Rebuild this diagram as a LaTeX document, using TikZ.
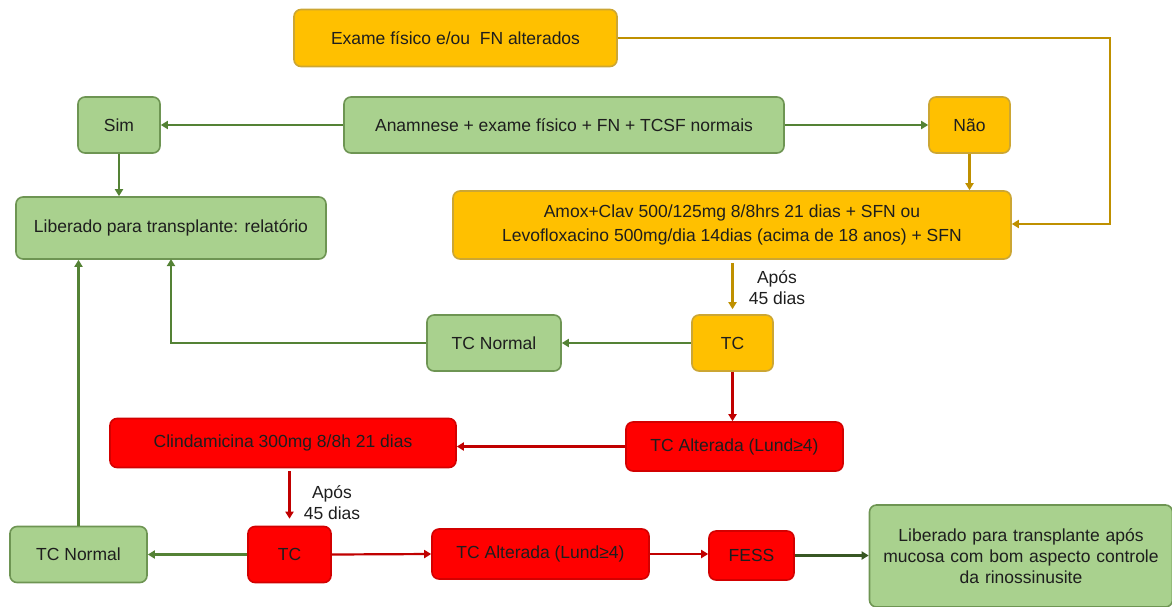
\documentclass[tikz,border=0pt]{standalone}
\usepackage{fontspec}
\setmainfont{Liberation Sans}
\usetikzlibrary{arrows.meta}
\definecolor{gfill}{HTML}{A9D18E}
\definecolor{gline}{HTML}{548235}
\definecolor{ofill}{HTML}{FFC000}
\definecolor{oline}{HTML}{BF9000}
\definecolor{rfill}{HTML}{FF0000}
\definecolor{rline}{HTML}{C00000}
\definecolor{dgline}{HTML}{385723}
\definecolor{txt}{HTML}{1E1E1E}
\begin{document}
\begin{tikzpicture}[x=1pt,y=-1pt,
  box/.style={draw, rounded corners=7pt, line width=1.6pt, inner sep=0pt, align=center,
    font=\fontsize{17.5}{21}\selectfont, text=txt},
  gbox/.style={box, fill=gfill, draw=gline!85},
  obox/.style={box, fill=ofill, draw=oline!80},
  rbox/.style={box, fill=rfill, draw=rline!70!rfill},
  arr/.style={line width=2.2pt, -{Triangle[width=8pt,length=7pt]}},
  garr/.style={arr, draw=gline},
  oarr/.style={arr, draw=oline},
  rarr/.style={arr, draw=rline},
  darr/.style={arr, draw=dgline},
  lbl/.style={align=center, font=\fontsize{17.5}{21}\selectfont, text=txt, inner sep=0pt}
]
\useasboundingbox (0,0) rectangle (1172,606);

% nodes
\node[obox, minimum width=323pt, minimum height=57pt] (exame) at (455.5,38) {Exame físico e/ou\ \ FN alterados};
\node[gbox, minimum width=82pt, minimum height=56pt] (sim) at (119,125) {Sim};
\node[gbox, minimum width=440pt, minimum height=56pt] (anam) at (564,125) {Anamnese + exame físico + FN + TCSF normais};
\node[obox, minimum width=81pt, minimum height=56pt] (nao) at (969.5,125) {Não};
\node[gbox, minimum width=310pt, minimum height=62pt] (lib) at (171,228) {Liberado para transplante: relatório};
\node[obox, minimum width=558pt, minimum height=68pt, font=\fontsize{17.5}{24}\selectfont] (amox) at (732,225)
  {Amox+Clav 500/125mg 8/8hrs 21 dias + SFN ou\\Levofloxacino 500mg/dia 14dias (acima de 18 anos) + SFN};
\node[obox, minimum width=81pt, minimum height=56pt] (tc1) at (732.5,343) {TC};
\node[gbox, minimum width=134pt, minimum height=56pt] (tcn1) at (494,343) {TC Normal};
\node[rbox, minimum width=217pt, minimum height=49pt] (talt1) at (734.5,446.5) {TC Alterada (Lund≥4)};
\node[rbox, minimum width=346pt, minimum height=49pt] (clin) at (283,443) {Clindamicina 300mg 8/8h 21 dias};
\node[rbox, minimum width=83pt, minimum height=56pt] (tc2) at (289.5,554.5) {TC};
\node[gbox, minimum width=137pt, minimum height=56pt] (tcn2) at (78.5,554.5) {TC Normal};
\node[rbox, minimum width=217pt, minimum height=50pt] (talt2) at (540.5,554) {TC Alterada (Lund≥4)};
\node[rbox, minimum width=85pt, minimum height=49pt] (fess) at (751.5,555.5) {FESS};
\node[gbox, minimum width=303pt, minimum height=102pt, text width=295pt] (lib2) at (1021,556)
  {Liberado para transplante após\\mucosa com bom aspecto controle\\da rinossinusite};

\node[lbl] (l1) at (777,287.5) {Após\\45 dias};
\node[lbl] (l2) at (332,502.5) {Após\\45 dias};

% connectors
\coordinate (fb) at (1110,224);
\draw[oarr] (exame.east) -| (fb) -- (fb -| amox.east);
\draw[garr] (anam.west) -- (sim.east);
\draw[garr] (anam.east) -- (nao.west);
\draw[garr] (sim.south) -- (sim.south |- lib.north);
\draw[oarr] (nao.south) -- (nao.south |- amox.north);
\draw[oarr, shorten <=3pt, shorten >=5pt] (amox.south -| tc1.north) -- (tc1.north);
\draw[garr] (tc1.west) -- (tcn1.east);
\coordinate (c1) at (171,259);
\draw[garr] (tcn1.west) -| (c1);
\draw[rarr] (tc1.south) -- (tc1.south |- talt1.north);
\draw[rarr] (talt1.west) -- (talt1.west -| clin.east);
\draw[rarr, shorten <=3pt, shorten >=7pt] (tc2.north |- clin.south) -- (tc2.north);
\draw[garr] (tc2.west) -- (tcn2.east);
\draw[garr] (tcn2.north) -- (tcn2.north |- lib.south);
\draw[rarr] (tc2.east) -- (talt2.west);
\draw[rarr] (talt2.east) -- (talt2.east -| fess.west);
\draw[darr] (fess.east) -- (fess.east -| lib2.west);
\end{tikzpicture}
\end{document}
